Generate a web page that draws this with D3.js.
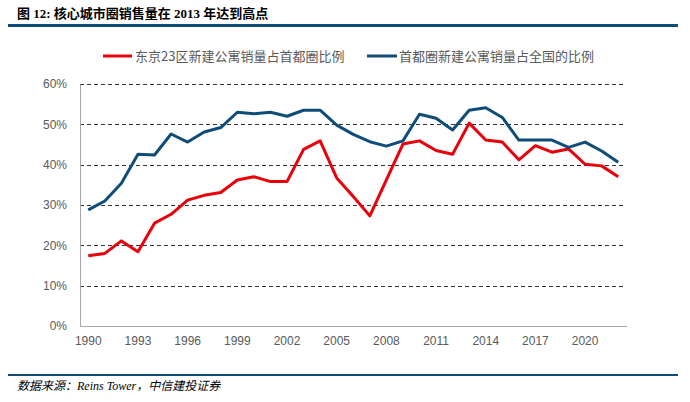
<!DOCTYPE html>
<html><head><meta charset="utf-8">
<script src="https://cdn.jsdelivr.net/npm/d3@7/dist/d3.min.js"></script>
<style>body{margin:0;background:#fff}svg{display:block}</style>
</head><body>
<script>
const years = d3.range(1990, 2023);
const tokyoShare = [17.4,18.0,21.1,18.4,25.5,27.7,31.2,32.4,33.1,36.2,37.0,35.8,35.8,43.8,45.9,36.7,32.1,27.3,36.2,45.1,45.9,43.5,42.6,50.3,46.1,45.6,41.2,44.7,43.1,43.9,40.1,39.7,37.0];
const capitalShare = [28.8,31.0,35.4,42.6,42.4,47.6,45.6,48.1,49.2,53.0,52.6,53.0,52.0,53.5,53.5,49.8,47.5,45.7,44.6,45.9,52.5,51.5,48.6,53.5,54.1,51.7,46.1,46.1,46.1,44.3,45.6,43.4,40.6];
const yTicks = [0,10,20,30,40,50,60];
const xTickYears = [1990,1993,1996,1999,2002,2005,2008,2011,2014,2017,2020];
const seriesNames = ["东京23区新建公寓销量占首都圈比例","首都圈新建公寓销量占全国的比例"];
const colors = ["#e8000b","#0f4d78"];

const W=690,H=402;
const svg=d3.select("body").append("svg").attr("width",W).attr("height",H);
const font="'Liberation Sans', Arial, sans-serif";
const cjk="'Noto Sans CJK SC', sans-serif";

// title
svg.append("text").attr("x",17).attr("y",18).attr("font-family","'Liberation Serif', "+cjk).attr("font-weight","bold")
  .attr("font-size",13).attr("fill","#000").text("图 12: 核心城市圈销售量在 2013 年达到高点");
svg.append("line").attr("x1",8).attr("x2",678).attr("y1",25.5).attr("y2",25.5).attr("stroke","#0f4d78").attr("stroke-width",3);

const x=d3.scaleBand().domain(years).range([80,626.5]);
const y=d3.scaleLinear().domain([0,60]).range([326,84]);
const cx=d=>x(d)+x.bandwidth()/2;

// grid
svg.append("g").selectAll("line").data(yTicks.filter(t=>t>0)).join("line")
  .attr("x1",80).attr("x2",626).attr("y1",d=>Math.round(y(d))+0.5).attr("y2",d=>Math.round(y(d))+0.5)
  .attr("stroke","#333").attr("stroke-width",1).attr("stroke-dasharray","4,3");

// axes
const yAxis=svg.append("g").attr("transform","translate(80,0)")
  .call(d3.axisLeft(y).tickValues(yTicks).tickFormat(d=>d+"%").tickSize(0).tickPadding(13));
yAxis.select(".domain").attr("stroke","#a6a6a6");
const xAxis=svg.append("g").attr("transform","translate(0,326)")
  .call(d3.axisBottom(x).tickValues(xTickYears).tickSize(0).tickPadding(10));
xAxis.select(".domain").attr("stroke","#a6a6a6");
svg.selectAll(".tick text").attr("font-family",font).attr("font-size",12).attr("fill","#595959");

// lines
const line=d3.line().x((d,i)=>cx(years[i])).y(d=>y(d));
[tokyoShare,capitalShare].forEach((s,k)=>{
  svg.append("path").datum(s).attr("d",line).attr("fill","none").attr("stroke",colors[k])
    .attr("stroke-width",3).attr("stroke-linejoin","round");
});

// legend
const leg=[{x1:103,x2:132,tx:135},{x1:367,x2:397,tx:399}];
leg.forEach((l,k)=>{
  svg.append("line").attr("x1",l.x1).attr("x2",l.x2).attr("y1",56).attr("y2",56).attr("stroke",colors[k]).attr("stroke-width",3);
  svg.append("text").attr("x",l.tx).attr("y",60.5).attr("font-family",cjk).attr("font-size",13)
    .attr("fill","#595959").text(seriesNames[k]);
});

// footer
svg.append("line").attr("x1",8).attr("x2",678).attr("y1",375).attr("y2",375).attr("stroke","#0f4d78").attr("stroke-width",2);
svg.append("text").attr("x",17).attr("y",390).attr("font-family","'Liberation Serif', "+cjk).attr("font-style","italic")
  .attr("font-size",12).attr("fill","#000").text("数据来源：Reins Tower，中信建投证券");
</script>
</body></html>
